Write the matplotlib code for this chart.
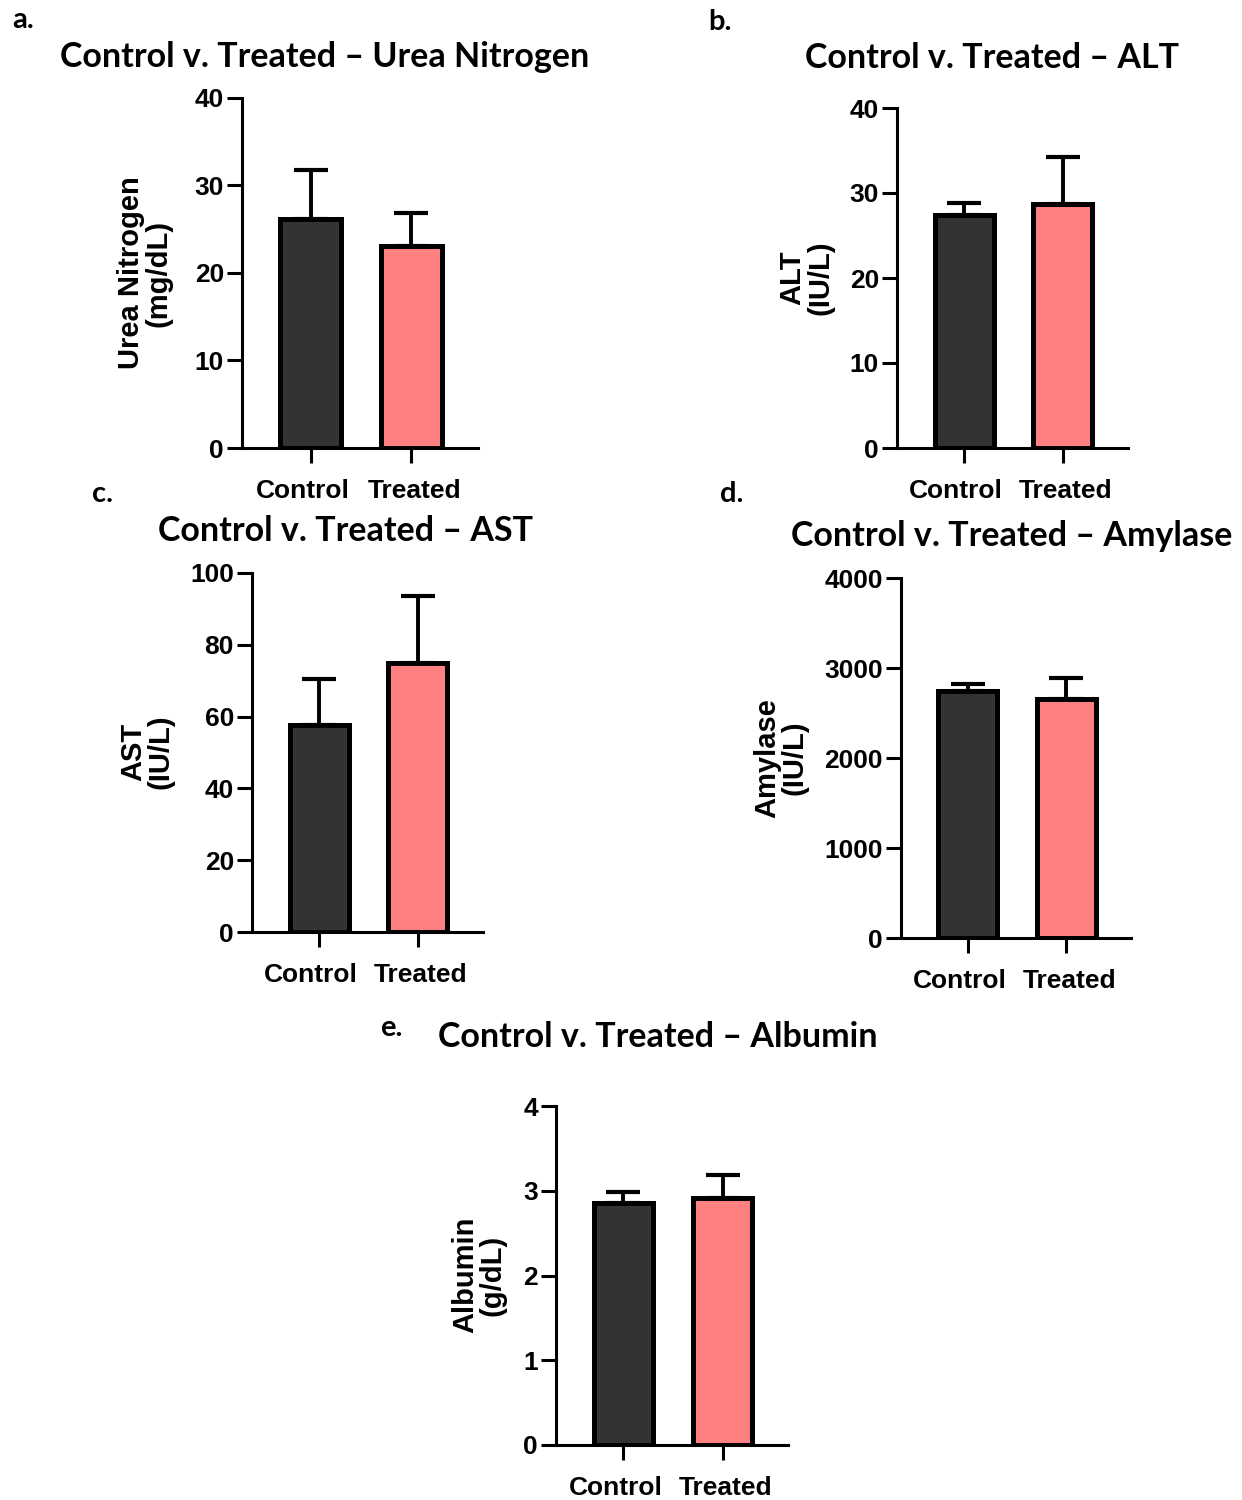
import matplotlib
matplotlib.use("Agg")
import matplotlib.pyplot as plt
import matplotlib.transforms as mtransforms

groups = ["Control", "Treated"]

urea_mean = [26.2, 23.1]
urea_err = [5.6, 3.8]
alt_mean = [27.4, 28.7]
alt_err = [1.4, 5.5]
ast_mean = [57.7, 74.9]
ast_err = [12.8, 18.7]
amylase_mean = [2745, 2655]
amylase_err = [78, 234]
albumin_mean = [2.86, 2.92]
albumin_err = [0.13, 0.27]

colors = ["#333333", "#FF8080"]

W, H = 1242, 1500
fig = plt.figure(figsize=(W / 100, H / 100), dpi=100)

# panel specs: data, ylim, ticks, ylabel, title, letter, pixel boxes
panels = [
    dict(mean=urea_mean, err=urea_err, top=40, ticks=[0, 10, 20, 30, 40],
         ylabel="Urea Nitrogen\n(mg/dL)", title="Control v. Treated – Urea Nitrogen",
         letter="a.", box=(242, 478, 98, 448), ylab=(145, 273), tit=(325, 57), let=(12, 20)),
    dict(mean=alt_mean, err=alt_err, top=40, ticks=[0, 10, 20, 30, 40],
         ylabel="ALT\n(IU/L)", title="Control v. Treated – ALT",
         letter="b.", box=(897, 1128, 108, 448), ylab=(806, 278), tit=(992, 58), let=(708, 22)),
    dict(mean=ast_mean, err=ast_err, top=100, ticks=[0, 20, 40, 60, 80, 100],
         ylabel="AST\n(IU/L)", title="Control v. Treated – AST",
         letter="c.", box=(252, 483, 573, 932), ylab=(147, 752), tit=(346, 531), let=(92, 494)),
    dict(mean=amylase_mean, err=amylase_err, top=4000, ticks=[0, 1000, 2000, 3000, 4000],
         ylabel="Amylase\n(IU/L)", title="Control v. Treated – Amylase",
         letter="d.", box=(901, 1131, 578, 938), ylab=(781, 758), tit=(1012, 536), let=(720, 494)),
    dict(mean=albumin_mean, err=albumin_err, top=4, ticks=[0, 1, 2, 3, 4],
         ylabel="Albumin\n(g/dL)", title="Control v. Treated – Albumin",
         letter="e.", box=(556, 788, 1106, 1445), ylab=(479, 1275), tit=(658, 1037), let=(380, 1028)),
]

tick_font = "Liberation Sans"
title_font = "Lato"
label_shift = [-0.08, 0.03]  # inches, nudges x labels apart like the original

for p in panels:
    x0, x1, ytop, ybot = p["box"]
    ax = fig.add_axes([x0 / W, (H - ybot) / H, (x1 - x0) / W, (ybot - ytop) / H])
    pos = [0, 1]
    ax.errorbar(pos, p["mean"], yerr=[[0, 0], p["err"]], fmt="none", ecolor="black",
                elinewidth=2.8, capsize=12, capthick=3, zorder=1)
    ax.bar(pos, p["mean"], width=0.6, color=colors, edgecolor="black", linewidth=3.6, zorder=2)
    ax.set_xlim(-0.68, 1.66)
    ax.set_ylim(0, p["top"])
    ax.set_yticks(p["ticks"])
    ax.set_xticks(pos)
    ax.set_xticklabels(groups)
    for s in ["top", "right"]:
        ax.spines[s].set_visible(False)
    for s in ["left", "bottom"]:
        ax.spines[s].set_linewidth(2.2)
    ax.tick_params(axis="both", width=2.2, length=11, labelsize=19)
    ax.tick_params(axis="x", pad=11)
    ax.tick_params(axis="y", pad=2)
    for lab in ax.get_xticklabels() + ax.get_yticklabels():
        lab.set_fontfamily(tick_font)
        lab.set_fontweight("bold")
    for lab, dx in zip(ax.get_xticklabels(), label_shift):
        off = mtransforms.ScaledTranslation(dx, 0, fig.dpi_scale_trans)
        lab.set_transform(lab.get_transform() + off)
    lx, ly = p["ylab"]
    fig.text(lx / W, 1 - ly / H, p["ylabel"], rotation=90, ha="center", va="center",
             multialignment="center", fontsize=21, fontweight="bold", family=tick_font,
             linespacing=1.0)
    tx, ty = p["tit"]
    fig.text(tx / W, 1 - ty / H, p["title"], ha="center", va="center",
             fontsize=24.5, fontweight="bold", family=title_font)
    px, py = p["let"]
    fig.text(px / W, 1 - py / H, p["letter"], ha="left", va="center",
             fontsize=21, fontweight="bold", family=title_font)

fig.savefig("out.png", dpi=100, facecolor="white")
